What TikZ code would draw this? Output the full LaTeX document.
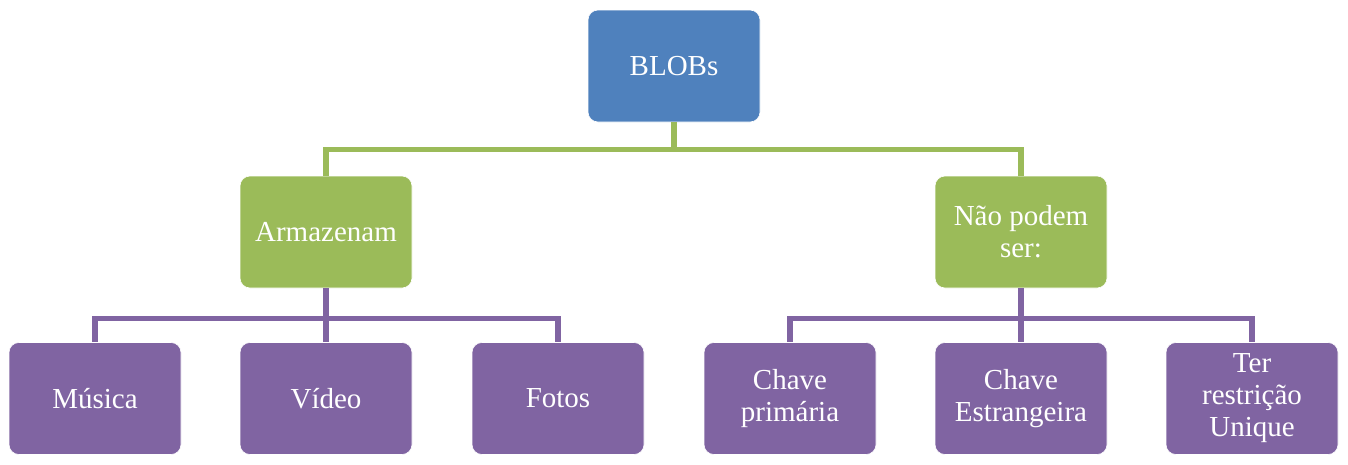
\documentclass[tikz,border=0pt]{standalone}
\usepackage{fontspec}
\setmainfont{Liberation Serif}
\usetikzlibrary{positioning}
\definecolor{blobblue}{HTML}{4F81BD}
\definecolor{blobgreen}{HTML}{9BBB59}
\definecolor{blobpurple}{HTML}{8064A2}
\tikzset{
    box/.style={rectangle, rounded corners=10pt, minimum width=172pt, minimum height=112pt,
        inner sep=2pt, align=center, text=white, draw=white, line width=0.6pt,
        font=\fontsize{29}{32}\selectfont},
    link/.style={line width=5.5pt}
}

\begin{document}
\begin{tikzpicture}[x=1pt, y=-1pt]
    \useasboundingbox (0,0) rectangle (1348,464);
    \node[box, fill=blobblue] (blobs) at (674,66) {BLOBs};
    \node[box, fill=blobgreen] (arm) at (326,232) {Armazenam};
    \node[box, fill=blobgreen] (nao) at (1021,232) {Não podem\\ser:};
    \foreach \name/\x/\txt in {mus/95/Música, vid/326/Vídeo, fot/558/Fotos,
        pk/790/{Chave\\primária}, fk/1021/{Chave\\Estrangeira}, uq/1252/{Ter\\restrição\\Unique}} {
        \node[box, fill=blobpurple] (\name) at (\x,398.5) {\txt};
    }
    % ligacoes
    \foreach \child in {arm, nao}
        \draw[link, blobgreen] (blobs.south) -- ++(0,27) -| (\child.north);
    \foreach \child in {mus, vid, fot}
        \draw[link, blobpurple] (arm.south) -- ++(0,30) -| (\child.north);
    \foreach \child in {pk, fk, uq}
        \draw[link, blobpurple] (nao.south) -- ++(0,30) -| (\child.north);
\end{tikzpicture}
\end{document}
